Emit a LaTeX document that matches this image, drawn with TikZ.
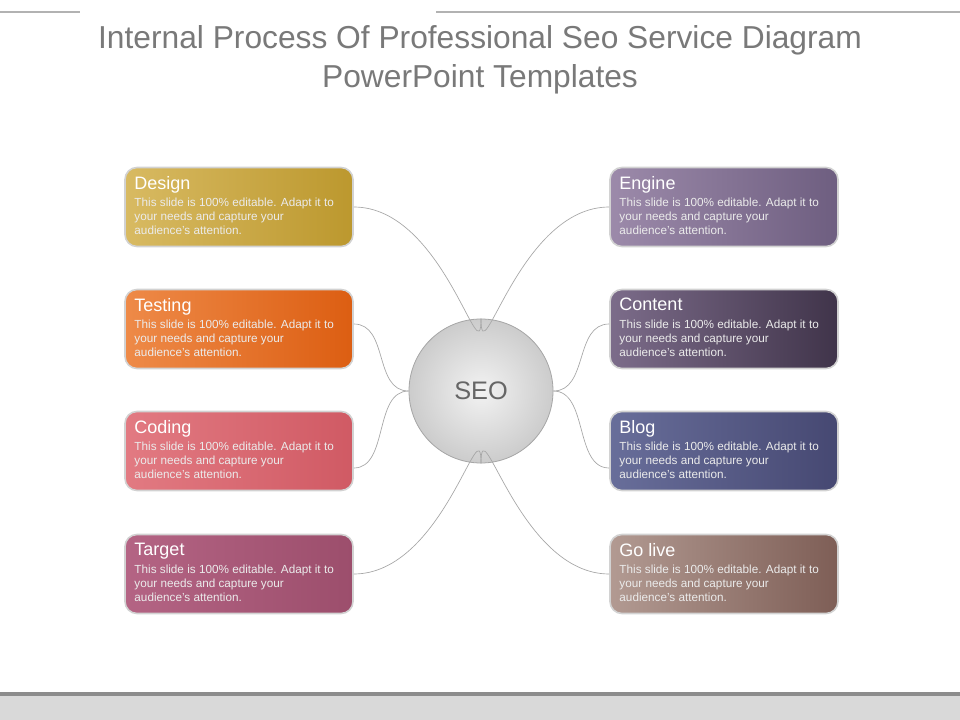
\documentclass[tikz,border=0pt]{standalone}
\usepackage{fontspec}
\setmainfont{Liberation Sans}
\begin{document}
\begin{tikzpicture}[x=0.75pt,y=-0.75pt,
  card/.style={draw=gray!35,line width=1.2pt,rounded corners=9pt,minimum width=228*0.75pt,minimum height=79*0.75pt,inner sep=0pt},
  link/.style={draw=gray!70,line width=0.5pt},
  ttl/.style={anchor=north west,text=white,font=\fontsize{13.5}{15}\selectfont,inner sep=0pt},
  bdy/.style={anchor=north west,text=white!92!black,font=\fontsize{8.8}{10.4}\selectfont,inner sep=0pt,align=left}]
\useasboundingbox (0,0) rectangle (960,720);
\fill[white] (0,0) rectangle (960,720);
\draw[gray!60,line width=2.2pt] (0,12) -- (80,12) (436,12) -- (960,12);
\fill[gray!30] (0,695) rectangle (960,720);
\draw[gray!90,line width=2.5pt] (0,694) -- (960,694);
\node[text=gray!95!black,font=\fontsize{23.8}{29.5}\selectfont,align=center] (title) at (480,60) {Internal Process Of Professional Seo Service Diagram\\PowerPoint Templates};
\node[circle,minimum size=144*0.75pt,draw=gray!70,line width=0.6pt,inner color=gray!10,outer color=gray!40,font=\fontsize{19}{22}\selectfont,text=gray!80!black] (seo) at (481,391) {SEO};
\newcommand{\card}[6]{%
  \node[card,left color=#4,right color=#5] (#1) at (#2,#3) {};
  \node[ttl] at ([xshift=10*0.75pt,yshift=-9*0.75pt]#1.north west) {#6};
  \node[bdy] at ([xshift=10*0.75pt,yshift=-31*0.75pt]#1.north west) {This slide is 100\% editable. Adapt it to\\your needs and capture your\\audience's attention.};}
\definecolor{c1a}{HTML}{D8BA62}\definecolor{c1b}{HTML}{BC982E}
\definecolor{c2a}{HTML}{EE8A48}\definecolor{c2b}{HTML}{DC5E12}
\definecolor{c3a}{HTML}{E27A82}\definecolor{c3b}{HTML}{D05A64}
\definecolor{c4a}{HTML}{B46484}\definecolor{c4b}{HTML}{9C4E6C}
\definecolor{c5a}{HTML}{9C8AAA}\definecolor{c5b}{HTML}{6E5E80}
\definecolor{c6a}{HTML}{7C6C8A}\definecolor{c6b}{HTML}{40344A}
\definecolor{c7a}{HTML}{686E9A}\definecolor{c7b}{HTML}{464872}
\definecolor{c8a}{HTML}{B29A92}\definecolor{c8b}{HTML}{7E5E56}
\card{design}{239}{207}{c1a}{c1b}{Design}
\card{testing}{239}{329}{c2a}{c2b}{Testing}
\card{coding}{239}{451}{c3a}{c3b}{Coding}
\card{target}{239}{574}{c4a}{c4b}{Target}
\card{engine}{724}{207}{c5a}{c5b}{Engine}
\card{content}{724}{329}{c6a}{c6b}{Content}
\card{blog}{724}{451}{c7a}{c7b}{Blog}
\card{golive}{724}{574}{c8a}{c8b}{Go live}
\draw[link] (design.east) .. controls +(90*0.75pt,0) and +(0,-60*0.75pt) .. (seo.north);
\draw[link] (engine.west) .. controls +(-90*0.75pt,0) and +(0,-60*0.75pt) .. (seo.north);
\draw[link] ([yshift=5*0.75pt]testing.east) .. controls +(35*0.75pt,0) and +(-35*0.75pt,0) .. (seo.west);
\draw[link] ([yshift=-17*0.75pt]coding.east) .. controls +(35*0.75pt,0) and +(-35*0.75pt,0) .. (seo.west);
\draw[link] ([yshift=5*0.75pt]content.west) .. controls +(-35*0.75pt,0) and +(35*0.75pt,0) .. (seo.east);
\draw[link] ([yshift=-17*0.75pt]blog.west) .. controls +(-35*0.75pt,0) and +(35*0.75pt,0) .. (seo.east);
\draw[link] (target.east) .. controls +(90*0.75pt,0) and +(0,60*0.75pt) .. (seo.south);
\draw[link] (golive.west) .. controls +(-90*0.75pt,0) and +(0,60*0.75pt) .. (seo.south);
\end{tikzpicture}
\end{document}
